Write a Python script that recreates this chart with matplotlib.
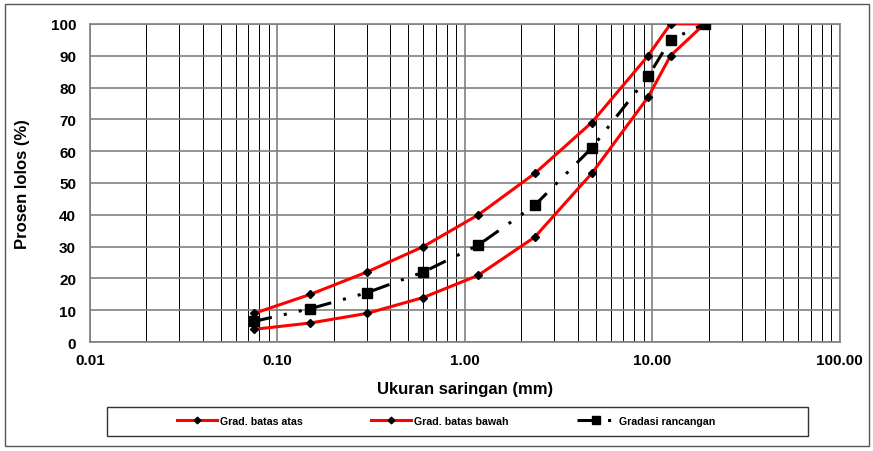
import matplotlib.pyplot as plt
from matplotlib.ticker import FixedLocator, LogLocator, NullFormatter
from matplotlib.patches import Rectangle

plt.rcParams['font.family'] = ['Liberation Sans', 'DejaVu Sans']

ukuran = [0.075, 0.15, 0.3, 0.6, 1.18, 2.36, 4.75, 9.5, 12.5, 19.0]
batas_atas = [9, 15, 22, 30, 40, 53, 69, 90, 100, 100]
batas_bawah = [4, 6, 9, 14, 21, 33, 53, 77, 90, 100]
rancangan = [6.5, 10.5, 15.5, 22, 30.5, 43, 61, 83.5, 95, 100]
xticks = [0.01, 0.1, 1, 10, 100]
xlabels = ['0.01', '0.10', '1.00', '10.00', '100.00']

fig = plt.figure(figsize=(8.73, 4.52), dpi=100)
ax = fig.add_axes([0.103, 0.241, 0.859, 0.704])

ax.plot(ukuran, batas_atas, color='red', lw=2.2, marker='D', ms=4.5,
        mfc='black', mec='black', label='Grad. batas atas', zorder=3)
ax.plot(ukuran, batas_bawah, color='red', lw=2.2, marker='D', ms=4.5,
        mfc='black', mec='black', label='Grad. batas bawah', zorder=3)
ax.plot(ukuran, rancangan, color='black', lw=2.2, marker='s', ms=7,
        dashes=[6, 4, 1, 4, 1, 4], label='Gradasi rancangan', zorder=4)

ax.set_xscale('log')
ax.set_xlim(0.01, 100)
ax.set_ylim(0, 100)
ax.xaxis.set_major_locator(FixedLocator(xticks))
ax.set_xticklabels(xlabels)
ax.xaxis.set_minor_locator(LogLocator(base=10, subs=range(2, 10)))
ax.xaxis.set_minor_formatter(NullFormatter())
ax.set_yticks(range(0, 101, 10))

ax.grid(True, which='major', color='#808080', lw=1.2)
ax.grid(True, which='minor', axis='x', color='black', lw=0.7)
ax.set_axisbelow(True)
for s in ax.spines.values():
    s.set_color('#808080')
    s.set_linewidth(1.2)

ax.tick_params(which='both', length=0, labelsize=11)
ax.tick_params(axis='x', pad=8)
ax.tick_params(axis='y', pad=10)
for lab in ax.get_xticklabels() + ax.get_yticklabels():
    lab.set_fontweight('bold')

ax.set_xlabel('Ukuran saringan (mm)', fontsize=12, fontweight='bold', labelpad=10)
ax.set_ylabel('Prosen lolos (%)', fontsize=12, fontweight='bold', labelpad=15)

# legend box
fig.patches.append(Rectangle((107 / 873, 1 - 437 / 452), 701 / 873, 29 / 452,
                             transform=fig.transFigure, fill=False,
                             edgecolor='#333333', lw=1))
h, l = ax.get_legend_handles_labels()
fig.legend(h, l, ncol=3, loc='center left',
           bbox_to_anchor=(177 / 873, 1 - 422 / 452),
           frameon=False, prop={'size': 7.7, 'weight': 'bold'},
           handlelength=3.7, columnspacing=6.4, handletextpad=0.3,
           markerscale=0.75, borderpad=0, borderaxespad=0)

# outer frame
fig.patches.append(Rectangle((0.006, 0.011), 0.989, 0.978, transform=fig.transFigure,
                             fill=False, edgecolor='#555555', lw=1))

fig.savefig('out.png', dpi=100)
